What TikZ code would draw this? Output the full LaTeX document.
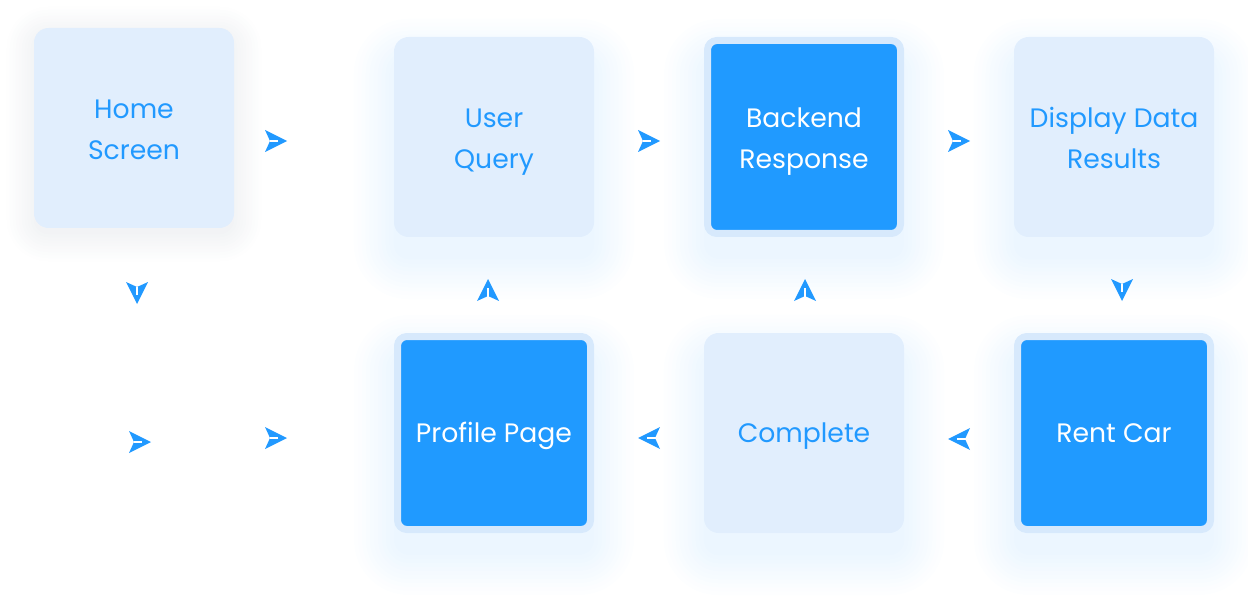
\documentclass[tikz,border=0pt]{standalone}
\usepackage{fontspec}
\setmainfont{Poppins}
\usetikzlibrary{arrows.meta}
\usetikzlibrary{decorations.markings}
\usetikzlibrary{backgrounds}

\definecolor{boxlight}{HTML}{E1EEFD}
\definecolor{boxdark}{HTML}{209AFF}
\definecolor{boxedge}{HTML}{D7E9FC}
\definecolor{ink}{HTML}{2199FF}
\definecolor{haze}{HTML}{5A6B80}

\begin{document}
\begin{tikzpicture}[x=0.75pt,y=-0.75pt,
    label text/.style={align=center, font=\fontsize{20}{30.75}\selectfont},
    oneline/.style={text height=18pt, text depth=4pt},
    twoline/.style={text height=52pt, text depth=4pt},
    lightbox/.style={label text, fill=boxlight, text=ink, rounded corners=11pt,
      minimum width=150pt, minimum height=150pt},
    darkbox/.style={label text, fill=boxdark, draw=boxedge, line width=5.25pt, text=white,
      rounded corners=7pt, minimum width=144.75pt, minimum height=144.75pt},
    link/.style={decoration={markings, mark=at position 1 with {
        \fill[ink] (0,0) -- (-22,-11) -- (-17,0) -- (-22,11) -- cycle;
        \draw[white, line width=1.5pt] (-17.5,0) -- (-9,0);}},
      postaction={decorate}}]
  \useasboundingbox (0,0) rectangle (1248,602);

  % top row
  \node[lightbox, twoline] (home) at (134,128) {Home\\Screen};
  \node[lightbox, twoline] (query) at (494,137) {User\\Query};
  \node[darkbox, twoline] (backend) at (804,137) {Backend\\Response};
  \node[lightbox, twoline] (display) at (1114,137) {Display Data\\Results};
  % bottom row
  \node[darkbox, oneline] (profile) at (494,433) {Profile Page};
  \node[lightbox, oneline] (complete) at (804,433) {Complete};
  \node[darkbox, oneline] (rent) at (1114,433) {Rent Car};

  % soft shadows
  \begin{scope}[on background layer]
    \foreach \n in {query,backend,display,profile,complete,rent}
      \foreach \r in {0,4,...,40}
        \fill[ink, opacity=0.008, rounded corners={11pt+0.75pt*\r}]
          ([shift={(-\r,-\r+22)}]\n.north west) rectangle ([shift={(\r,\r+22)}]\n.south east);
    \foreach \r in {0,3,...,27}
      \fill[haze, opacity=0.007, rounded corners={11pt+0.75pt*\r}]
        ([shift={(-\r,-\r+6)}]home.north west) rectangle ([shift={(\r,\r+6)}]home.south east);
  \end{scope}

  % arrow tips
  \coordinate (a1) at (287,141);
  \coordinate (a2) at (660,141);
  \coordinate (a3) at (970,141);
  \coordinate (a4) at (1122,301);
  \coordinate (a5) at (948,439);
  \coordinate (a6) at (638,438);
  \coordinate (a7) at (805,279);
  \coordinate (a8) at (488,279);
  \coordinate (a9) at (137,304);
  \coordinate (a10) at (151,442);
  \coordinate (a11) at (287,438);

  \path[link] (home) |- (a1);
  \path[link] (query) |- (a2);
  \path[link] (backend) |- (a3);
  \path[link] (display) -| (a4);
  \path[link] (rent) |- (a5);
  \path[link] (complete) |- (a6);
  \path[link] (complete) -| (a7);
  \path[link] (profile) -| (a8);
  \path[link] (home) -| (a9);
  \path[link] (a9) |- (a10);
  \path[link] (a10) |- (a11);
\end{tikzpicture}
\end{document}
